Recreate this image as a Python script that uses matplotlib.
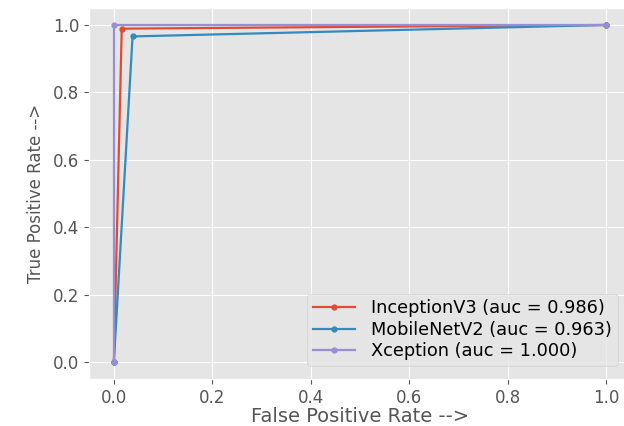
import matplotlib
matplotlib.use("Agg")
import matplotlib.pyplot as plt

plt.style.use("ggplot")

models = ["InceptionV3", "MobileNetV2", "Xception"]
aucs = [0.986, 0.963, 1.000]
fpr = [
    [0.0, 0.016, 1.0],
    [0.0, 0.038, 1.0],
    [0.0, 0.0, 1.0],
]
tpr = [
    [0.0, 0.989, 1.0],
    [0.0, 0.966, 1.0],
    [0.0, 1.0, 1.0],
]
colors = ["#E24A33", "#348ABD", "#988ED5"]

fig = plt.figure(figsize=(6.24, 4.26), dpi=100)
ax = fig.add_axes([0.143, 0.110, 0.868, 0.871])

for name, a, fx, ty, c in zip(models, aucs, fpr, tpr, colors):
    ax.plot(fx, ty, marker=".", color=c, linewidth=1.6, markersize=7,
            label=f"{name} (auc = {a:.3f})")

ax.set_xlim(-0.05, 1.05)
ax.set_ylim(-0.05, 1.05)
ax.set_xticks([0.0, 0.2, 0.4, 0.6, 0.8, 1.0])
ax.set_yticks([0.0, 0.2, 0.4, 0.6, 0.8, 1.0])
ax.tick_params(labelsize=12, colors="#555555")
ax.set_xlabel("False Positive Rate -->", fontsize=14, color="#555555", labelpad=0)
ax.set_ylabel("True Positive Rate -->", fontsize=12, color="#555555", labelpad=6)
ax.legend(loc="lower right", fontsize=12.8, borderaxespad=0.75,
          labelspacing=0.2, borderpad=0.3, handlelength=2.4, handletextpad=0.9)

fig.savefig("out.png", dpi=100)
